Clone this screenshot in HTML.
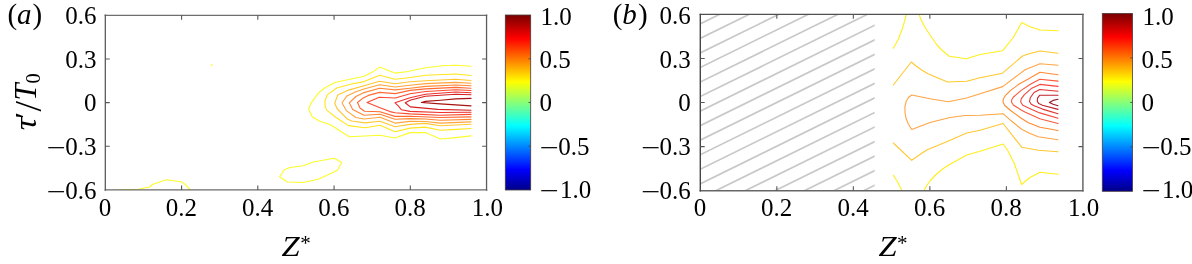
<!DOCTYPE html>
<html lang="en"><head><meta charset="utf-8"><title>Correlation contours</title>
<style>html,body{margin:0;padding:0;background:#fff}body{width:1192px;height:264px;overflow:hidden}svg{display:block}text{font-family:"Liberation Serif", serif;fill:#000}.t{font-size:25px}.l{font-size:29px}.i{font-style:italic}.c{fill:none;stroke-width:1.12;stroke-linejoin:round;stroke-linecap:round}.ax{fill:none;stroke:#3c3c3c;stroke-width:1.15}.tk{stroke:#3c3c3c;stroke-width:1.1}.h{stroke:#c8c8c8;stroke-width:1.7}</style></head><body>
<svg width="1192" height="264" viewBox="0 0 1192 264">
<defs><linearGradient id="jet" x1="0" y1="1" x2="0" y2="0"><stop offset="0.008" stop-color="#00008f"/><stop offset="0.117" stop-color="#0000ff"/><stop offset="0.367" stop-color="#00ffff"/><stop offset="0.617" stop-color="#ffff00"/><stop offset="0.867" stop-color="#ff0000"/><stop offset="0.992" stop-color="#800000"/></linearGradient>
<clipPath id="hc"><rect x="700.3" y="14.4" width="174.4" height="176.3"/></clipPath></defs>
<rect width="1192" height="264" fill="#fff"/>
<g class="h" clip-path="url(#hc)">
<line x1="698.3" y1="24.8" x2="876.0" y2="-62.6"/>
<line x1="698.3" y1="39.4" x2="876.0" y2="-48.0"/>
<line x1="698.3" y1="53.9" x2="876.0" y2="-33.5"/>
<line x1="698.3" y1="68.5" x2="876.0" y2="-19.0"/>
<line x1="698.3" y1="83.0" x2="876.0" y2="-4.4"/>
<line x1="698.3" y1="97.5" x2="876.0" y2="10.1"/>
<line x1="698.3" y1="112.1" x2="876.0" y2="24.6"/>
<line x1="698.3" y1="126.6" x2="876.0" y2="39.2"/>
<line x1="698.3" y1="141.1" x2="876.0" y2="53.7"/>
<line x1="698.3" y1="155.7" x2="876.0" y2="68.3"/>
<line x1="698.3" y1="170.2" x2="876.0" y2="82.8"/>
<line x1="698.3" y1="184.8" x2="876.0" y2="97.3"/>
<line x1="698.3" y1="199.3" x2="876.0" y2="111.9"/>
<line x1="698.3" y1="213.8" x2="876.0" y2="126.4"/>
<line x1="698.3" y1="228.4" x2="876.0" y2="141.0"/>
<line x1="698.3" y1="242.9" x2="876.0" y2="155.5"/>
<line x1="698.3" y1="257.5" x2="876.0" y2="170.0"/>
<line x1="698.3" y1="272.0" x2="876.0" y2="184.6"/>
<line x1="698.3" y1="286.5" x2="876.0" y2="199.1"/>
</g>
<g class="c">
<polyline stroke="#fbfb2d" points="471.0,66.3 455.7,65.2 442.3,65.7 425.7,67.7 406.5,71.8 394.8,73.1 379.7,67.1 372.5,72.1 364.2,76.3 346.3,80.0 335.0,82.5 325.0,87.7 318.7,92.7 311.3,102.8 309.7,106.0 308.7,109.6 312.4,117.0 319.8,121.2 330.0,124.5 349.2,136.8 380.0,135.2 395.0,138.0 410.0,132.6 425.2,132.6 440.5,139.0 455.7,137.6 471.0,135.9"/>
<polyline stroke="#ffe61e" points="471.0,75.5 455.7,74.0 425.7,75.2 408.6,77.7 394.8,79.3 379.7,75.3 364.0,81.6 350.6,84.2 336.8,88.0 327.2,94.9 324.9,101.2 325.1,104.0 325.1,106.4 326.7,110.1 336.8,118.0 348.4,125.6 365.0,127.7 380.0,125.3 395.0,131.8 410.0,128.1 425.2,127.1 440.4,130.3 456.5,129.4 471.0,128.5"/>
<polyline stroke="#ffc832" points="471.0,80.5 455.7,79.3 425.7,80.7 410.0,81.7 395.2,83.7 379.6,81.3 364.0,85.8 348.5,90.1 337.8,94.9 334.9,102.8 334.7,103.2 337.3,109.0 347.4,119.1 351.7,121.0 365.0,122.9 380.0,121.2 395.0,126.8 410.0,124.4 425.3,123.4 440.3,125.8 471.0,124.3"/>
<polyline stroke="#ffa53c" points="471.0,83.3 455.7,82.4 425.7,83.6 410.0,85.2 395.2,87.0 379.6,84.7 364.0,89.0 355.9,91.7 346.9,95.9 342.1,102.8 342.1,103.0 346.3,110.6 355.9,117.5 364.2,119.0 380.0,117.3 395.0,123.1 410.0,121.4 425.3,121.5 440.3,123.1 471.0,121.9"/>
<polyline stroke="#ff8838" points="471.0,85.8 455.7,85.0 425.7,86.4 410.0,88.3 395.2,89.9 379.6,88.2 364.0,92.6 355.9,96.5 349.3,102.8 349.4,103.0 352.7,109.6 360.0,113.2 364.2,115.3 380.0,114.3 395.0,119.3 410.0,118.6 425.3,119.0 440.3,120.3 471.0,119.4"/>
<polyline stroke="#ff6a34" points="471.0,88.2 455.7,87.4 425.7,88.9 410.0,90.4 395.2,93.6 379.6,92.4 368.3,95.4 362.3,98.6 357.5,102.5 357.5,102.6 360.0,108.0 364.5,111.3 380.0,111.7 395.0,116.4 410.0,116.3 440.3,117.5 471.0,116.9"/>
<polyline stroke="#fb4a30" points="471.0,90.5 455.7,89.8 425.7,91.5 410.0,93.7 395.3,98.0 379.3,97.3 367.0,102.4 380.0,107.8 390.0,111.6 395.0,112.7 410.0,113.9 440.3,115.3 471.0,114.4"/>
<polyline stroke="#ee3030" points="471.0,92.7 455.7,92.0 425.5,94.2 410.0,97.8 395.0,102.8 398.5,106.2 401.5,109.8 410.0,111.4 440.3,112.5 471.0,112.3"/>
<polyline stroke="#d42222" points="471.0,94.8 455.7,94.2 425.3,96.3 410.0,100.3 405.2,102.8 410.3,106.9 437.8,109.4 471.0,110.3"/>
<polyline stroke="#a81212" points="471.0,98.4 455.7,98.9 440.5,100.2 425.5,101.4 421.4,102.5 440.3,103.9 471.0,105.9"/>
<polygon stroke="#fbfb2d" points="279.7,177.0 284.2,169.7 290.0,167.5 303.3,165.8 313.3,162.0 334.2,158.3 341.7,162.5 337.5,170.3 318.3,179.2 303.3,182.5 287.5,182.0"/>
<polyline stroke="#fbfb2d" points="119.7,189.5 138.4,189.3 144.1,188.0 149.8,187.0 152.3,184.5 166.3,179.7 173.6,180.8 181.0,181.7 185.0,184.2 189.9,189.5"/>
<circle cx="211.7" cy="65.2" r="0.9" fill="#fbfb2d" stroke="none"/>
<polyline stroke="#ffee1e" points="906.3,15.0 902.5,28.3 898.3,39.2 893.3,48.3"/>
<polyline stroke="#ffee1e" points="919.2,15.0 921.5,20.5 924.5,26.5 930.0,35.0 936.5,44.5 941.7,50.0 949.2,56.3 966.3,58.7 980.0,54.5 1002.5,50.8 1013.3,37.5 1021.7,22.5 1030.0,26.7 1040.0,30.0 1058.0,30.8"/>
<polyline stroke="#ffc832" points="893.3,85.0 911.3,62.0 916.0,66.0 921.7,70.0 928.0,73.7 935.0,76.7 947.5,82.0 966.7,81.3 980.0,77.8 1002.5,73.2 1022.5,56.0 1030.0,53.5 1040.0,51.0 1058.0,53.2"/>
<polyline stroke="#ffa546" points="1058.0,65.3 1040.0,63.7 1025.0,69.8 1002.7,86.6 980.0,93.7 966.7,98.0 948.0,101.7 930.0,98.7 911.7,95.0 908.5,97.5 906.3,101.0 904.9,106.7 905.0,112.5 906.0,118.3 908.3,124.0 911.7,129.5 930.0,122.5 950.0,117.5 965.0,115.5 980.0,115.3 1003.2,113.7 1010.6,120.3 1021.7,129.3 1030.0,133.6 1038.3,136.8 1058.0,139.7"/>
<polyline stroke="#ffc832" points="893.3,143.0 911.7,160.3 918.5,155.5 926.7,150.0 946.7,141.7 966.7,133.0 980.0,130.2 1003.0,123.5 1021.7,147.2 1038.3,150.2 1058.0,151.8"/>
<polyline stroke="#ffee1e" points="893.3,175.2 897.5,181.8 901.7,190.0"/>
<polyline stroke="#ffee1e" points="924.2,190.0 926.8,185.5 930.0,181.0 936.0,174.5 943.3,168.5 950.0,164.2 966.7,155.0 980.0,151.2 1003.0,144.0 1007.5,150.0 1014.2,163.3 1021.7,184.7 1025.5,181.0 1030.0,177.5 1040.0,172.2 1058.0,174.2"/>
<polyline stroke="#ff8c32" points="1058.0,74.8 1040.0,72.3 1028.3,79.0 1019.1,84.0 1010.6,90.4 1005.3,95.7 1003.3,99.0 1003.0,102.0 1004.8,105.5 1010.6,110.5 1021.2,118.2 1028.3,122.7 1040.0,127.3 1058.0,130.5"/>
<polyline stroke="#fb5a3c" points="1058.0,81.1 1039.8,79.2 1030.8,84.0 1021.2,90.4 1013.8,96.7 1011.8,99.5 1011.5,102.0 1013.3,105.0 1021.2,110.0 1024.9,112.0 1039.8,118.7 1058.0,123.5"/>
<polyline stroke="#f4463c" points="1058.0,86.4 1039.8,84.4 1031.8,88.2 1024.4,94.6 1021.2,98.9 1020.7,102.0 1022.8,105.2 1031.8,109.5 1039.8,112.9 1058.0,118.2"/>
<polyline stroke="#e13232" points="1058.0,91.2 1039.8,89.5 1034.0,92.5 1030.3,97.8 1029.5,101.5 1031.0,104.0 1033.5,105.5 1042.5,109.1 1058.0,113.7"/>
<polyline stroke="#be232d" points="1058.0,95.2 1039.8,95.2 1037.7,97.8 1037.2,101.0 1038.7,103.6 1042.5,105.2 1058.0,109.4"/>
<polyline stroke="#961e28" points="1058.0,99.3 1053.1,100.4 1049.4,102.5 1053.1,104.2 1058.0,105.7"/>
</g>
<path d="M104.62 15.30H487.25" stroke="#6e6e6e" stroke-width="1.25" fill="none"/>
<path d="M104.62 189.90H487.25" stroke="#6a6a6a" stroke-width="1.35" fill="none"/>
<path d="M105.32 14.60V190.70" stroke="#5c5c5c" stroke-width="1.30" fill="none"/>
<path d="M486.55 14.60V190.70" stroke="#5c5c5c" stroke-width="1.30" fill="none"/>
<path d="M181.57 15.30v4.4M181.57 189.90v-4.4M257.81 15.30v4.4M257.81 189.90v-4.4M334.06 15.30v4.4M334.06 189.90v-4.4M410.30 15.30v4.4M410.30 189.90v-4.4M105.32 58.95h4.4M486.55 58.95h-4.4M105.32 102.60h4.4M486.55 102.60h-4.4M105.32 146.25h4.4M486.55 146.25h-4.4" stroke="#585858" stroke-width="1.1" fill="none"/>
<path d="M699.60 14.42H1083.60" stroke="#505050" stroke-width="1.20" fill="none"/>
<path d="M699.60 190.65H1083.60" stroke="#666666" stroke-width="1.50" fill="none"/>
<path d="M700.30 13.72V191.45" stroke="#464646" stroke-width="1.40" fill="none"/>
<path d="M1082.90 13.72V191.45" stroke="#666666" stroke-width="1.50" fill="none"/>
<path d="M776.82 14.42v4.4M776.82 190.65v-4.4M853.34 14.42v4.4M853.34 190.65v-4.4M929.86 14.42v4.4M929.86 190.65v-4.4M1006.38 14.42v4.4M1006.38 190.65v-4.4M700.30 58.48h4.4M1082.90 58.48h-4.4M700.30 102.54h4.4M1082.90 102.54h-4.4M700.30 146.59h4.4M1082.90 146.59h-4.4" stroke="#585858" stroke-width="1.1" fill="none"/>
<rect x="505.3" y="15.0" width="25.4" height="175.0" fill="url(#jet)" stroke="#4a3a3a" stroke-width="0.8"/>
<path d="M530.7 58.8h-2.2M530.7 102.5h-2.2M530.7 146.2h-2.2" stroke="#444" stroke-width="0.9"/>
<rect x="1102.3" y="13.4" width="30.2" height="177.9" fill="url(#jet)" stroke="#4a3a3a" stroke-width="0.8"/>
<path d="M1132.5 57.9h-2.2M1132.5 102.4h-2.2M1132.5 146.8h-2.2" stroke="#444" stroke-width="0.9"/>
<text class="t" x="96.4" y="24.0" text-anchor="end">0.6</text>
<text class="t" x="96.4" y="67.6" text-anchor="end">0.3</text>
<text class="t" x="96.4" y="111.3" text-anchor="end">0</text>
<text class="t" transform="translate(46.60,156.28) scale(1.360,1)">−</text>
<text class="t" x="96.4" y="154.9" text-anchor="end">0.3</text>
<text class="t" transform="translate(46.60,199.90) scale(1.360,1)">−</text>
<text class="t" x="96.4" y="198.5" text-anchor="end">0.6</text>
<text class="t" x="690.8" y="24.0" text-anchor="end">0.6</text>
<text class="t" x="690.8" y="67.6" text-anchor="end">0.3</text>
<text class="t" x="690.8" y="111.3" text-anchor="end">0</text>
<text class="t" transform="translate(641.00,156.28) scale(1.360,1)">−</text>
<text class="t" x="690.8" y="154.9" text-anchor="end">0.3</text>
<text class="t" transform="translate(641.00,199.90) scale(1.360,1)">−</text>
<text class="t" x="690.8" y="198.5" text-anchor="end">0.6</text>
<text class="t" x="105.1" y="216.4" text-anchor="middle">0</text>
<text class="t" x="181.3" y="216.4" text-anchor="middle">0.2</text>
<text class="t" x="257.6" y="216.4" text-anchor="middle">0.4</text>
<text class="t" x="333.8" y="216.4" text-anchor="middle">0.6</text>
<text class="t" x="410.1" y="216.4" text-anchor="middle">0.8</text>
<text class="t" x="487.3" y="216.4" text-anchor="middle">1.0</text>
<text class="t" x="700.0" y="216.4" text-anchor="middle">0</text>
<text class="t" x="776.5" y="216.4" text-anchor="middle">0.2</text>
<text class="t" x="853.1" y="216.4" text-anchor="middle">0.4</text>
<text class="t" x="929.6" y="216.4" text-anchor="middle">0.6</text>
<text class="t" x="1006.2" y="216.4" text-anchor="middle">0.8</text>
<text class="t" x="1083.7" y="216.4" text-anchor="middle">1.0</text>
<text class="t" x="540.6" y="24.7">1.0</text>
<text class="t" x="539.6" y="67.8">0.5</text>
<text class="t" x="539.6" y="111.2">0</text>
<text class="t" transform="translate(539.60,156.10) scale(1.360,1)">−</text>
<text class="t" x="558.3" y="154.7">0.5</text>
<text class="t" transform="translate(539.60,198.90) scale(1.360,1)">−</text>
<text class="t" x="560.0" y="197.5">1.0</text>
<text class="t" x="1142.6" y="24.7">1.0</text>
<text class="t" x="1141.6" y="67.8">0.5</text>
<text class="t" x="1141.6" y="111.2">0</text>
<text class="t" transform="translate(1141.60,156.10) scale(1.360,1)">−</text>
<text class="t" x="1160.3" y="154.7">0.5</text>
<text class="t" transform="translate(1141.60,198.90) scale(1.360,1)">−</text>
<text class="t" x="1162.0" y="197.5">1.0</text>
<text class="l" y="24.3"><tspan x="7.5">(</tspan><tspan class="i" x="17.0">a</tspan><tspan x="32.6">)</tspan></text>
<text class="l" y="24.3"><tspan x="612.7">(</tspan><tspan class="i" x="622.3">b</tspan><tspan x="637.9">)</tspan></text>
<text class="i" transform="translate(281.6,255.8) scale(1.09,1)" style="font-size:30px">Z</text>
<text x="300.3" y="249.6" style="font-size:21px">*</text>
<text class="i" transform="translate(878.4,255.8) scale(1.09,1)" style="font-size:30px">Z</text>
<text x="897.1" y="249.6" style="font-size:21px">*</text>
<text class="i" transform="translate(35.9,129.5) rotate(-90) scale(1.14,1)" style="font-size:31px" x="-0.7" y="0">τ</text>
<text class="i" transform="translate(35.9,129.3) rotate(-90)"><tspan x="8.8" y="-1.3" style="font-size:30px">′</tspan><tspan x="17.7" y="5.3" style="font-size:38px;font-style:normal">/</tspan><tspan x="28.7" y="0" style="font-size:30.5px">T</tspan><tspan x="45.8" y="4.5" style="font-size:20.5px;font-style:normal">0</tspan></text>
</svg></body></html>
